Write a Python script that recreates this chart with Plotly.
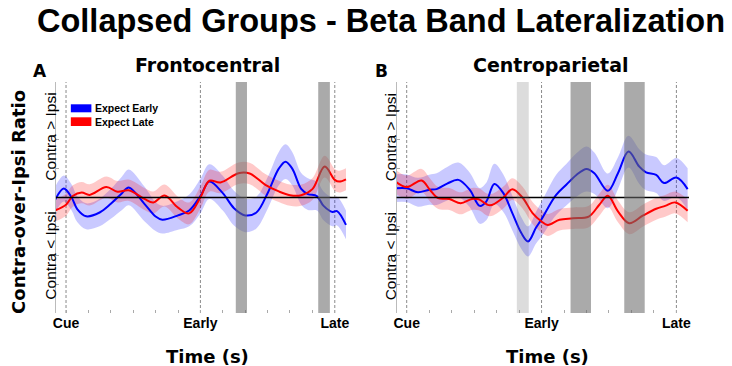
import numpy as np
import plotly.graph_objects as go

# ---- Frontocentral: contra-over-ipsi ratio (mean and SEM) ----
fc_early_t = [-0.05, -0.01, 0.025, 0.05, 0.09, 0.15, 0.20, 0.25, 0.28, 0.35, 0.40, 0.43, 0.50, 0.55,
              0.60, 0.64, 0.70, 0.75, 0.80, 0.85, 0.90, 0.95, 0.98, 1.01, 1.05, 1.08, 1.12, 1.15,
              1.19, 1.21, 1.25]
fc_early_v = [-0.10, 0.31, 0.00, -0.40, -0.65, -0.52, -0.22, 0.15, 0.35, -0.22, -0.66, -0.77, -0.62, -0.45,
              0.05, 0.55, 0.15, -0.37, -0.62, -0.52, 0.15, 1.00, 1.24, 1.00, 0.30, 0.12, 0.05, -0.29,
              -0.50, -0.47, -0.95]
fc_early_sem = [0.45, 0.45, 0.45, 0.45, 0.45, 0.48, 0.52, 0.58, 0.62, 0.60, 0.50, 0.48, 0.50, 0.55,
                0.60, 0.60, 0.60, 0.60, 0.58, 0.55, 0.55, 0.58, 0.60, 0.58, 0.55, 0.55, 0.50, 0.50,
                0.50, 0.50, 0.50]

fc_late_t = [-0.05, 0.0, 0.03, 0.07, 0.105, 0.18, 0.23, 0.28, 0.35, 0.39, 0.44, 0.50, 0.55, 0.60,
             0.64, 0.69, 0.77, 0.82, 0.89, 0.95, 1.00, 1.05, 1.10, 1.155, 1.20, 1.22, 1.25]
fc_late_v = [-0.45, -0.25, 0.05, 0.17, 0.09, 0.36, 0.20, 0.25, -0.05, -0.17, 0.07, -0.35, -0.55, 0.00,
             0.58, 0.52, 0.84, 0.83, 0.44, 0.21, 0.08, 0.08, 0.29, 1.07, 0.61, 0.55, 0.63]
fc_late_sem = [0.38, 0.38, 0.37, 0.37, 0.37, 0.37, 0.37, 0.37, 0.38, 0.38, 0.38, 0.38, 0.38, 0.38,
               0.38, 0.37, 0.37, 0.37, 0.37, 0.37, 0.37, 0.37, 0.38, 0.38, 0.38, 0.38, 0.38]

# ---- Centroparietal ----
cp_early_t = [-0.05, 0.0, 0.05, 0.10, 0.133, 0.18, 0.23, 0.28, 0.325, 0.354, 0.39, 0.43, 0.47, 0.51,
              0.54, 0.575, 0.60, 0.628, 0.665, 0.71, 0.755, 0.80, 0.835, 0.895, 0.94, 0.987, 1.035,
              1.065, 1.11, 1.145, 1.20, 1.25]
cp_early_v = [0.32, 0.32, 0.18, 0.27, 0.29, 0.48, 0.61, 0.27, -0.29, -0.14, 0.47, 0.15, -0.54, -1.23,
              -1.52, -1.05, -0.75, -0.37, 0.09, 0.44, 0.78, 0.99, 0.84, 0.23, 0.84, 1.59, 1.07,
              0.87, 0.78, 0.50, 0.69, 0.29]
cp_early_sem = [0.48, 0.48, 0.50, 0.52, 0.55, 0.58, 0.60, 0.60, 0.62, 0.65, 0.70, 0.65, 0.60, 0.55,
                0.52, 0.55, 0.60, 0.65, 0.70, 0.72, 0.75, 0.78, 0.72, 0.60, 0.55, 0.55, 0.60,
                0.62, 0.62, 0.62, 0.68, 0.72]

cp_late_t = [-0.05, 0.0, 0.066, 0.103, 0.14, 0.19, 0.24, 0.29, 0.32, 0.37, 0.43, 0.47, 0.515, 0.56,
             0.60, 0.628, 0.68, 0.74, 0.81, 0.857, 0.895, 0.94, 0.99, 1.05, 1.11, 1.15, 1.195, 1.25]
cp_late_v = [0.55, 0.36, 0.59, 0.27, -0.02, -0.05, -0.20, -0.05, -0.06, -0.27, 0.00, 0.29, 0.00, -0.54,
             -0.83, -0.95, -0.77, -0.72, -0.66, -0.25, 0.06, -0.48, -0.89, -0.63, -0.39, -0.29, -0.17, -0.46]
cp_late_sem = [0.42, 0.40, 0.40, 0.40, 0.38, 0.38, 0.38, 0.38, 0.38, 0.38, 0.38, 0.38, 0.38, 0.38,
               0.38, 0.38, 0.37, 0.37, 0.37, 0.38, 0.38, 0.38, 0.38, 0.38, 0.38, 0.38, 0.38, 0.40]

# significant time windows (shaded)
fc_sig_windows = [(0.758, 0.808), (1.126, 1.178)]
cp_trend_windows = [(0.490, 0.543)]
cp_sig_windows = [(0.729, 0.820), (0.968, 1.059)]

# trial events and tick grid
event_times = [0.0, 0.6, 1.2]
event_labels = ["Cue", "Early", "Late"]
tick_times = [0.0, 0.1, 0.2, 0.3, 0.4, 0.5, 0.6, 0.7, 0.8, 0.9, 1.0, 1.1, 1.2]

BLUE = "#0000ff"
RED = "#ff0000"
BLUE_BAND = "rgba(0,0,255,0.21)"
RED_BAND = "rgba(255,0,0,0.21)"

W, H = 732, 366
def px(x):
    return x / W
def py(y):
    return 1 - y / H

fig = go.Figure()

panels = [
    ("x", "y", [(fc_early_t, fc_early_v, fc_early_sem, BLUE, BLUE_BAND),
                (fc_late_t, fc_late_v, fc_late_sem, RED, RED_BAND)]),
    ("x2", "y2", [(cp_early_t, cp_early_v, cp_early_sem, BLUE, BLUE_BAND),
                  (cp_late_t, cp_late_v, cp_late_sem, RED, RED_BAND)]),
]

for xa, ya, series in panels:
    # SEM bands
    for t, v, s, col, band in series:
        t = np.array(t); v = np.array(v); s = np.array(s)
        fig.add_trace(go.Scatter(x=t, y=v + s, xaxis=xa, yaxis=ya, mode="lines",
                                 line=dict(width=0, shape="spline", smoothing=1.0),
                                 hoverinfo="skip", showlegend=False))
        fig.add_trace(go.Scatter(x=t, y=v - s, xaxis=xa, yaxis=ya, mode="lines",
                                 line=dict(width=0, shape="spline", smoothing=1.0),
                                 fill="tonexty", fillcolor=band,
                                 hoverinfo="skip", showlegend=False))
    # mean lines
    for t, v, s, col, band in series:
        fig.add_trace(go.Scatter(x=t, y=v, xaxis=xa, yaxis=ya, mode="lines",
                                 line=dict(color=col, width=2, shape="spline", smoothing=1.0),
                                 showlegend=False))

shapes = []
for xa, ya in (("x", "y"), ("x2", "y2")):
    for et in event_times:
        shapes.append(dict(type="line", xref=xa, yref=f"{ya} domain", x0=et, x1=et, y0=0, y1=1,
                           line=dict(color="#8a8a8a", width=1, dash="3px,2px"), layer="below"))
    shapes.append(dict(type="line", xref=f"{xa} domain", yref=ya, x0=0, x1=1, y0=0, y1=0,
                       line=dict(color="black", width=1.6), layer="above"))

def add_windows(windows, xa, ya, color):
    for a, b in windows:
        shapes.append(dict(type="rect", xref=xa, yref=f"{ya} domain", x0=a, x1=b, y0=0, y1=1,
                           fillcolor=color, line=dict(width=0), layer="above"))

add_windows(fc_sig_windows, "x", "y", "rgba(105,105,105,0.57)")
add_windows(cp_trend_windows, "x2", "y2", "rgba(105,105,105,0.23)")
add_windows(cp_sig_windows, "x2", "y2", "rgba(105,105,105,0.57)")

# legend swatches
shapes.append(dict(type="rect", xref="paper", yref="paper", x0=px(68.3), x1=px(89), y0=py(112.3), y1=py(104.3),
                   fillcolor=BLUE, line=dict(width=0)))
shapes.append(dict(type="rect", xref="paper", yref="paper", x0=px(68.3), x1=px(89), y0=py(126), y1=py(117.3),
                   fillcolor=RED, line=dict(width=0)))

ARIAL = "Liberation Sans, Arial, sans-serif"
HEAVY = "DejaVu Sans, sans-serif"

ann = []
def text(x, y, s, size, family, weight="bold", angle=0, xanchor="center"):
    ann.append(dict(x=px(x), y=py(y), xref="paper", yref="paper", text=s, showarrow=False,
                    xanchor=xanchor, yanchor="middle", textangle=angle,
                    font=dict(family=family, size=size, color="black", weight=weight)))

text(381, 21, "Collapsed Groups - Beta Band Lateralization", 32.5, ARIAL)
text(206, 65, "Frontocentral", 19, HEAVY)
text(551, 65, "Centroparietal", 19, HEAVY)
text(37.5, 71, "A", 17, HEAVY)
text(381, 71, "B", 17, HEAVY)
text(16, 202, "Contra-over-Ipsi Ratio", 18, HEAVY, angle=-90)
text(47, 137, "Contra > Ipsi", 15.5, ARIAL, weight="normal", angle=-90)
text(47, 256, "Contra < Ipsi", 15.5, ARIAL, weight="normal", angle=-90)
text(390, 137, "Contra > Ipsi", 15.5, ARIAL, weight="normal", angle=-90)
text(390, 256, "Contra < Ipsi", 15.5, ARIAL, weight="normal", angle=-90)
text(206, 356, "Time (s)", 18, HEAVY)
text(548, 356, "Time (s)", 18, HEAVY)
text(90.5, 108.3, "Expect Early", 10.5, ARIAL, xanchor="left")
text(90.5, 121.7, "Expect Late", 10.5, ARIAL, xanchor="left")

tick_text = [event_labels[event_times.index(t)] if t in event_times else "" for t in tick_times]

xaxis_common = dict(range=[-0.045, 1.256], tickmode="array", tickvals=tick_times, ticktext=tick_text,
                    ticks="inside", ticklen=3, tickcolor="#aaaaaa", showgrid=False, zeroline=False,
                    showline=False, tickfont=dict(family=ARIAL, size=14, color="black", weight="bold"),
                    fixedrange=True)
yaxis_common = dict(range=[-4, 4], tickmode="linear", tick0=0, dtick=1, showticklabels=False,
                    ticks="inside", ticklen=3, tickcolor="#aaaaaa", showgrid=False, zeroline=False,
                    showline=True, linecolor="#bbbbbb", linewidth=1, fixedrange=True)

fig.update_layout(
    width=W, height=H, margin=dict(l=0, r=0, t=0, b=0),
    paper_bgcolor="white", plot_bgcolor="white", showlegend=False,
    xaxis=dict(domain=[px(53.3), px(346.7)], anchor="y", **xaxis_common),
    yaxis=dict(domain=[py(313), py(82)], anchor="x", **yaxis_common),
    xaxis2=dict(domain=[px(396.3), px(690.7)], anchor="y2", **xaxis_common),
    yaxis2=dict(domain=[py(313), py(82)], anchor="x2", **yaxis_common),
    shapes=shapes, annotations=ann,
)

fig.write_html("out.html")
